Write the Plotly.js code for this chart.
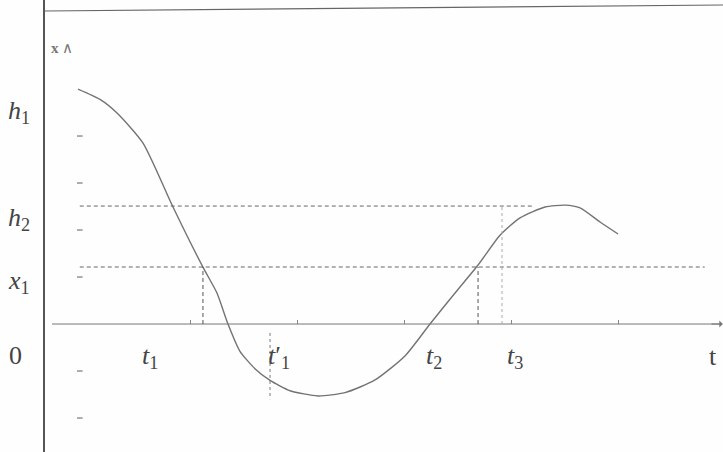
<!DOCTYPE html>
<html><head><meta charset="utf-8">
<script src="https://cdn.plot.ly/plotly-3.0.1.min.js"></script>
<style>html,body{margin:0;padding:0;background:#fff}#chart{width:723px;height:452px}</style>
</head><body><div id="chart"></div>
<script>
// Curve samples (t, x)
const curveT = [-0.047,0.159,0.318,0.561,0.841,1.121,1.252,1.355,1.467,1.607,1.748,1.935,2.196,2.449,2.729,3.009,3.243,3.477,3.692,3.897,4.084,4.318,4.505,4.645,4.832,5.0];
const curveX = [5.0,4.78,4.49,3.85,2.49,1.21,0.66,0.0,-0.58,-0.95,-1.20,-1.42,-1.53,-1.46,-1.19,-0.68,0.0,0.66,1.255,1.89,2.26,2.49,2.53,2.47,2.17,1.915];
// Reference levels and instants
const levelNames = ['<i>h</i><sub>1</sub>','<i>h</i><sub>2</sub>','<i>x</i><sub>1</sub>','0'];
const h2 = 2.51, x1 = 1.213;
const tNames = ['<i>t</i><sub>1</sub>','<i>t</i>′<sub>1</sub>','<i>t</i><sub>2</sub>','<i>t</i><sub>3</sub>'];
const t1 = 1.121, t1p = 1.748, t2 = 3.692, t3 = 3.916;
const xTicks = [1,2,3,4,5];
const yTicks = [4,3,2,1,-1,-2];

const xr = [-0.355, 5.981], yr = [-2.723, 6.894];
const serif = 'Liberation Serif, Times New Roman, serif';
const ink = '#444';

const traces = [
  {x: curveT, y: curveX, mode:'lines', line:{color:'#737373', width:1.4, shape:'spline', smoothing:0.6}, hoverinfo:'skip'},
  {x: yTicks.map(()=>-0.03), y: yTicks, mode:'markers', marker:{symbol:'line-ew-open', size:4, color:'#777', line:{color:'#777', width:1.2}}, hoverinfo:'skip'}
];

const dash = '4px,3px';
const shapes = [
  {type:'line', xref:'paper', yref:'paper', x0:0, x1:1, y0:1-11/452, y1:1-5/452, line:{color:'#666', width:1.2}},
  {type:'line', x0:-0.29, x1:5.96, y0:0, y1:0, line:{color:'#777', width:1}},
  {type:'line', x0:-0.03, x1:4.22, y0:h2, y1:h2, line:{color:'#666', width:1, dash}},
  {type:'line', x0:-0.03, x1:5.81, y0:x1, y1:x1, line:{color:'#666', width:1, dash}},
  {type:'line', x0:t1, x1:t1, y0:0, y1:x1, line:{color:'#555', width:1, dash}},
  {type:'line', x0:t2, x1:t2, y0:0, y1:x1, line:{color:'#555', width:1, dash}},
  {type:'line', x0:t1p, x1:t1p, y0:-0.19, y1:-1.6, line:{color:'#777', width:1, dash:'dot'}},
  {type:'line', x0:t3, x1:t3, y0:0, y1:h2, line:{color:'#aaa', width:1, dash:'dot'}}
];

// paper coords for labels outside the plotting area
const px2paperX = px => (px-45)/678;
const py2paperY = py => 1 - py/452;
const labPY = [112, 219, 282, 355];
const annotations = [];
const lab = (px, py, text, size, color) => ({xref:'paper', yref:'paper', x:px2paperX(px), y:py2paperY(py),
  xanchor:'center', yanchor:'middle', text, showarrow:false, font:{family:serif, size, color}});
levelNames.forEach((n,i)=>{
  annotations.push(lab(i===3 ? 15 : 19, labPY[i], n, 26, ink));
});
const tLabPX = [150, 279, 434, 515];
tNames.forEach((n,i)=>{ annotations.push(lab(tLabPX[i], 357, n, 26, ink)); });
annotations.push(lab(713, 356, 't', 26, ink));
annotations.push(lab(62, 48, '<b>x</b> ∧', 15, '#777'));
annotations.push({x:5.98, y:0, ax:5.86, ay:0, axref:'x', ayref:'y', text:'', showarrow:true, arrowhead:1, arrowsize:1.2, arrowwidth:1, arrowcolor:'#777'});

const layout = {
  width:723, height:452, margin:{l:45, r:0, t:0, b:0},
  font:{family:serif},
  paper_bgcolor:'#fefefe', plot_bgcolor:'#fefefe', showlegend:false,
  xaxis:{range:xr, showgrid:false, zeroline:false, showline:false, anchor:'free',
    position:(0-yr[0])/(yr[1]-yr[0]), tickvals:xTicks, ticks:'inside', ticklen:4, tickcolor:'#888', showticklabels:false, fixedrange:true},
  yaxis:{range:yr, showgrid:false, zeroline:false, showline:true, linecolor:'#555', linewidth:2, ticks:'', showticklabels:false, fixedrange:true},
  shapes, annotations
};
Plotly.newPlot('chart', traces, layout, {staticPlot:true, displayModeBar:false});
</script></body></html>
